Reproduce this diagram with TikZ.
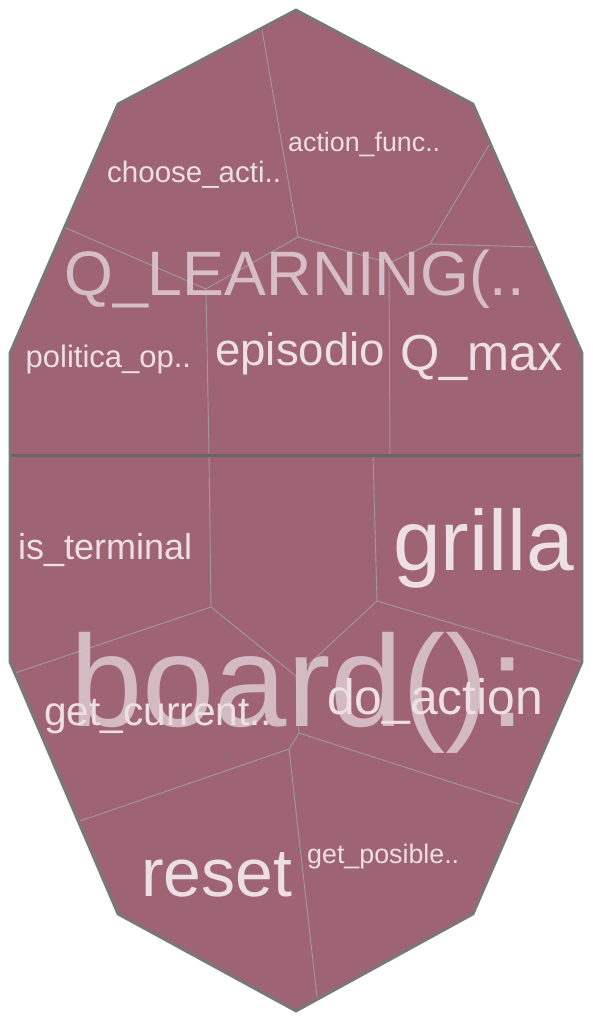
\documentclass[tikz,border=0pt]{standalone}
\usepackage{fontspec}
\setmainfont{Liberation Sans}
\definecolor{cellfill}{HTML}{9F6474}
\definecolor{rim}{HTML}{787878}
\definecolor{divline}{HTML}{6A6668}
\definecolor{seam}{HTML}{A09A9C}
\definecolor{leaftext}{HTML}{EDDFE4}
\definecolor{parenttext}{HTML}{DCC6CE}
\tikzset{
  leaf/.style={text=leaftext, inner sep=0pt, anchor=base west},
  parent/.style={text=parenttext, inner sep=0pt, anchor=base west},
  seamline/.style={draw=seam, line width=0.9pt},
}
\newcommand{\fs}[1]{\fontsize{#1}{#1}\selectfont}
\begin{document}
\begin{tikzpicture}[x=1pt,y=-1pt]
\useasboundingbox (0,0) rectangle (592,1020);
% outer shape
\coordinate (T) at (296,10);
\coordinate (UL) at (118,104);
\coordinate (UR) at (473,104);
\coordinate (ML) at (10,353);
\coordinate (MR) at (582,353);
\coordinate (LL) at (10,662);
\coordinate (LR) at (582,662);
\coordinate (BL) at (118,914);
\coordinate (BR) at (473,914);
\coordinate (B) at (296,1011);
\fill[cellfill] (T) -- (UR) -- (MR) -- (LR) -- (BR) -- (B) -- (BL) -- (LL) -- (ML) -- (UL) -- cycle;
% top half seams
\coordinate (a1) at (262,30);
\coordinate (a2) at (298,237);
\coordinate (a3) at (206,289);
\coordinate (a4) at (66,228);
\coordinate (a5) at (389,263);
\coordinate (a6) at (430,244);
\coordinate (a7) at (489,145);
\coordinate (a8) at (535,247);
\coordinate (a9) at (209,455);
\coordinate (a10) at (390,455);
\draw[seamline] (a1) -- (a2) -- (a3) -- (a4);
\draw[seamline] (a3) -- (a9);
\draw[seamline] (a2) -- (a5) -- (a6) -- (a7);
\draw[seamline] (a6) -- (a8);
\draw[seamline] (a5) -- (a10);
% bottom half seams
\coordinate (b1) at (209,455);
\coordinate (b2) at (211,607);
\coordinate (b3) at (15,673);
\coordinate (b4) at (296,676);
\coordinate (b5) at (373,455);
\coordinate (b6) at (377,601);
\coordinate (b7) at (299,733);
\coordinate (b8) at (289,749);
\coordinate (b9) at (519,804);
\coordinate (b10) at (80,821);
\coordinate (b11) at (317,997);
\draw[seamline] (b1) -- (b2) -- (b3);
\draw[seamline] (b2) -- (b4) -- (b7) -- (b8) -- (b10);
\draw[seamline] (b5) -- (b6) -- (LR);
\draw[seamline] (b6) -- (b4);
\draw[seamline] (b7) -- (b9);
\draw[seamline] (b8) -- (b11);
% divider and rim
\coordinate (DL) at (10,455);
\coordinate (DR) at (582,455);
\draw[divline, line width=3pt] (DL) -- (DR);
\draw[rim, line width=2.8pt, line join=miter] (T) -- (UR) -- (MR) -- (LR) -- (BR) -- (B) -- (BL) -- (LL) -- (ML) -- (UL) -- cycle;
% labels
\node[parent, font=\fs{62.8}, opacity=0.92] (qlearn) at (64,295) {Q\_LEARNING(..};
\node[leaf, font=\fs{29.5}] (choose) at (107,182) {choose\_acti..};
\node[leaf, font=\fs{26.8}] (actfunc) at (288,151) {action\_func..};
\node[leaf, font=\fs{31}] (politica) at (25.5,367) {politica\_op..};
\node[leaf, font=\fs{45.6}] (episodio) at (215,365) {episodio};
\node[leaf, font=\fs{50.6}] (qmax) at (400,370) {Q\_max};
\node[leaf, font=\fs{36}] (isterm) at (18,559) {is\_terminal};
\node[leaf, font=\fs{85.7}] (grilla) at (393,570) {grilla};
\node[parent, font=\fs{130}, opacity=0.88] (board) at (70,726) {board():};
\node[leaf, font=\fs{40.6}] (getcur) at (44,725) {get\_current..};
\node[leaf, font=\fs{49.8}] (doaction) at (327,714) {do\_action};
\node[leaf, font=\fs{68}] (reset) at (141,896) {reset};
\node[leaf, font=\fs{26.8}] (getpos) at (307,863) {get\_posible..};
\end{tikzpicture}
\end{document}
